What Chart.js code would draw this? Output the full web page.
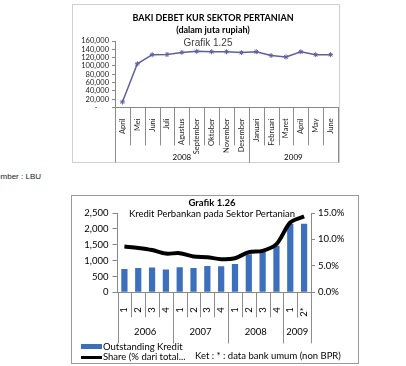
<!DOCTYPE html>
<html><head><meta charset="utf-8">
<script src="https://cdn.jsdelivr.net/npm/chart.js@4.4.0/dist/chart.umd.min.js"></script>
<style>
html,body{margin:0;padding:0;background:#fff;width:406px;height:366px;overflow:hidden;font-family:Lato,sans-serif;}
.t{position:absolute;white-space:nowrap;transform:translate(-50%,-50%);color:#000;line-height:1;}
.l{position:absolute;white-space:nowrap;transform:translate(0,-50%);color:#000;line-height:1;}
#box1{position:absolute;left:72px;top:4px;width:266px;height:157px;border:1.5px solid #d0d0d0;}
#box2{position:absolute;left:71px;top:195px;width:286px;height:167px;border:1px solid #9a9a9a;}
canvas{position:absolute;left:0;}
</style></head><body>
<div id="box1"></div><div id="box2"></div>
<canvas id="c1" width="406" height="163" style="top:0"></canvas>
<canvas id="c2" width="406" height="150" style="top:195px"></canvas>

<div class="t" style="left:213px;top:17px;font-size:9px;font-weight:bold">BAKI DEBET KUR SEKTOR PERTANIAN</div>
<div class="t" style="left:213px;top:29px;font-size:9px;font-weight:bold">(dalam juta rupiah)</div>
<div class="t" style="left:208px;top:43px;font-size:10px;font-family:'Liberation Sans',Arial,sans-serif;color:#404040">Grafik 1.25</div>
<div class="l" style="right:365px;top:177px;font-size:8px;font-family:'Liberation Sans',Arial,sans-serif;color:#222">Sumber : LBU</div>

<div class="t" style="left:212px;top:203px;font-size:9.5px;font-weight:bold">Grafik 1.26</div>
<div class="t" style="left:212px;top:214px;font-size:9.5px">Kredit Perbankan pada Sektor Pertanian</div>

<div style="position:absolute;left:81px;top:344px;width:21px;height:5px;background:#3c70bd"></div>
<div class="l" style="left:103px;top:347px;font-size:9.5px">Outstanding Kredit</div>
<div style="position:absolute;left:81px;top:356px;width:21px;height:2.5px;background:#000"></div>
<div class="l" style="left:103px;top:357px;font-size:9.5px">Share (% dari total...</div>
<div class="l" style="left:195px;top:356px;font-size:9.5px">Ket : * : data bank umum (non BPR)</div>

<script>
// ---- Data: Grafik 1.25 ----
const months = ['April','Mei','Juni','Juli','Agustus','September','Oktober','November','Desember','Januari','Februari','Maret','April','May','June'];
const monthYears = ['2008','2009'];
const monthYearCounts = [9,6];
const kurValues = [13000,105000,127000,127500,132500,135000,134000,134000,132000,134000,125000,121500,134000,127000,127000];

// ---- Data: Grafik 1.26 ----
const quarters = ['1','2','3','4','1','2','3','4','1','2','3','4','1','2*'];
const quarterYears = ['2006','2007','2008','2009'];
const quarterYearCounts = [4,4,4,2];
const kreditValues = [737,769,779,715,791,769,832,823,890,1202,1285,1465,2152,2161];
const shareValues = [8.66,8.4,8.0,7.33,7.4,6.76,6.64,6.27,6.45,7.6,7.84,9.1,13.2,14.35];

function groupPlugin(years, counts, sepLen, groupLen, yearY, font){
  return {id:'grp', afterDraw(chart){
    const x = chart.scales.x, ctx = chart.ctx;
    const n = chart.data.labels.length;
    const step = x.getPixelForValue(1) - x.getPixelForValue(0);
    const edge = i => x.getPixelForValue(0) - step/2 + i*step;
    const top = x.top;
    ctx.save();
    ctx.strokeStyle = '#8c8c8c'; ctx.lineWidth = 1;
    for(let i=0;i<=n;i++){
      const px = Math.round(edge(i))+0.5;
      ctx.beginPath(); ctx.moveTo(px, top); ctx.lineTo(px, top+sepLen); ctx.stroke();
    }
    ctx.font = font; ctx.fillStyle = '#000'; ctx.textAlign='center'; ctx.textBaseline='middle';
    let idx = 0;
    for(let g=0; g<years.length; g++){
      const x0 = edge(idx); idx += counts[g]; const x1 = edge(idx);
      [x0,x1].forEach(p=>{ const px=Math.round(p)+0.5; ctx.beginPath(); ctx.moveTo(px, top); ctx.lineTo(px, top+groupLen); ctx.stroke(); });
      ctx.fillText(years[g], (x0+x1)/2, yearY);
    }
    ctx.restore();
  }};
}

Chart.defaults.font.family = 'Lato, sans-serif';
Chart.defaults.color = '#000';

new Chart(document.getElementById('c1'), {
  type:'line',
  data:{labels:months, datasets:[{data:kurValues, borderColor:'#5e5ea0', backgroundColor:'#5e5ea0', borderWidth:1.5,
    pointStyle:'star', pointRadius:2.5, pointBorderWidth:1, tension:0}]},
  options:{
    responsive:false, animation:false,
    layout:{padding:{left:70, right:68, top:41, bottom:0}},
    plugins:{legend:{display:false}, tooltip:{enabled:false}},
    scales:{
      x:{offset:true, grid:{display:false}, border:{display:true, color:'#888'},
        ticks:{autoSkip:false, minRotation:90, maxRotation:90, padding:3, font:{size:7.5}, color:'#222'},
        afterFit:s=>{s.height = 55.6;}},
      y:{min:0, max:160000, ticks:{stepSize:20000, autoSkip:false, padding:3, font:{size:7.5}, color:'#222',
          callback:v=> v===0 ? '-      ' : v.toLocaleString('en-US')},
        grid:{display:true, drawOnChartArea:false, tickLength:3, color:'#888'}, border:{color:'#888'},
        afterFit:s=>{s.width = 45;}}
    }
  },
  plugins:[groupPlugin(monthYears, monthYearCounts, 38, 55, 157, '8px Lato, sans-serif')]
});

new Chart(document.getElementById('c2'), {
  data:{labels:quarters, datasets:[
    {type:'line', data:shareValues, yAxisID:'y1', borderColor:'#000', borderWidth:4, pointRadius:0, tension:0.3, order:0},
    {type:'bar', data:kreditValues, yAxisID:'y', backgroundColor:'#3c70bd', barPercentage:0.45, categoryPercentage:1, order:1}
  ]},
  options:{
    responsive:false, animation:false,
    layout:{padding:{left:72.5, right:50, top:18, bottom:0}},
    plugins:{legend:{display:false}, tooltip:{enabled:false}},
    scales:{
      x:{offset:true, grid:{display:false}, border:{display:true, color:'#888'},
        ticks:{autoSkip:false, minRotation:90, maxRotation:90, padding:7, font:{size:9.5}},
        afterFit:s=>{s.height = 52.7;}},
      y:{position:'left', min:0, max:2500, ticks:{stepSize:500, autoSkip:false, padding:4, font:{size:9.5},
          callback:v=>v.toLocaleString('en-US')},
        grid:{display:true, drawOnChartArea:false, tickLength:5, color:'#888'}, border:{color:'#888'},
        afterFit:s=>{s.width = 45;}},
      y1:{position:'right', min:0, max:15, ticks:{stepSize:5, autoSkip:false, padding:3, font:{size:9.5},
          callback:v=>v.toFixed(1)+'%'},
        grid:{display:true, drawOnChartArea:false, tickLength:4, color:'#888'}, border:{color:'#888'},
        afterFit:s=>{s.width = 45;}}
    }
  },
  plugins:[groupPlugin(quarterYears, quarterYearCounts, 25, 51, 137, '9.5px Lato, sans-serif')]
});
</script>
</body></html>
